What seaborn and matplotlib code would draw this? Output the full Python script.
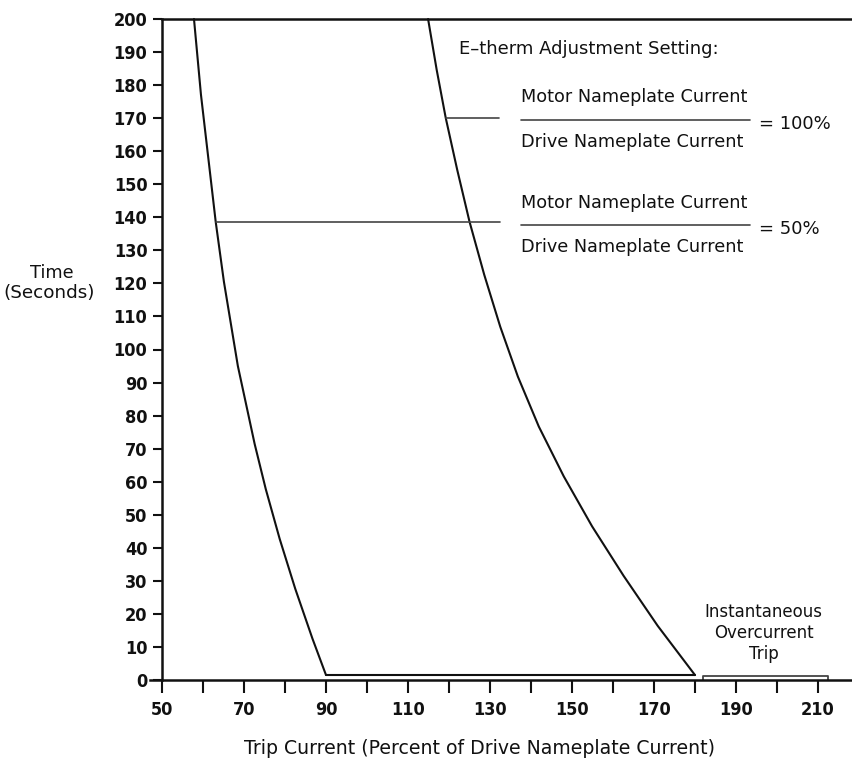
import matplotlib
matplotlib.use("Agg")
import matplotlib.pyplot as plt
import seaborn as sns
import pandas as pd
from matplotlib.ticker import FixedLocator

# Trip-time curves (trip current in % of drive nameplate, time in seconds)
current_100 = [114.9, 117.0, 119.2, 122.0, 125.0, 128.6, 132.5, 136.8, 141.9,
               148.0, 154.9, 162.6, 170.9, 180.0]
time_100 = [200.0, 184.6, 170.1, 154.4, 138.7, 122.6, 106.9, 91.8, 76.7,
            61.6, 46.5, 31.5, 16.4, 1.5]

current_50 = [57.8, 59.5, 63.1, 65.1, 68.5, 72.6, 75.3, 78.7, 82.5, 86.7, 90.0]
time_50 = [200.0, 177.1, 138.6, 120.5, 95.0, 71.4, 57.8, 42.7, 27.6, 12.5, 1.5]

# Minimum trip time plateau between the two curve ends
floor_current = [90.0, 180.0]
floor_time = [1.5, 1.5]

# Instantaneous overcurrent trip band
inst_current = [182.0, 182.0, 212.5, 212.5]
inst_time = [0.0, 1.2, 1.2, 0.0]

# Axis ticks
x_major = [50, 70, 90, 110, 130, 150, 170, 190, 210]
x_minor = [60, 80, 100, 120, 140, 160, 180, 200]
y_ticks = list(range(0, 201, 10))

# Setting labels and the levels where their leaders meet the curves
setting_labels = ["= 100%", "= 50%"]
leader_time = [170.1, 138.6]
leader_start = [119.2, 63.1]
leader_end = [132.2, 132.4]

sns.set_style("white")
plt.rcParams["font.family"] = ["DejaVu Sans"]

W, H = 852, 763
fig = plt.figure(figsize=(W / 100, H / 100), dpi=100)
ax = fig.add_axes([150 / W, 1 - 680 / H, 702 / W, 661 / H])

ink = "#111111"
gray = "#444444"

df100 = pd.DataFrame({"current": current_100, "time": time_100})
df50 = pd.DataFrame({"current": current_50, "time": time_50})
dffloor = pd.DataFrame({"current": floor_current, "time": floor_time})
dfinst = pd.DataFrame({"current": inst_current, "time": inst_time})

for d, lw, col in [(df100, 1.5, ink), (df50, 1.5, ink), (dffloor, 1.5, ink), (dfinst, 1.3, gray)]:
    sns.lineplot(data=d, x="current", y="time", ax=ax, color=col, lw=lw,
                 sort=False, estimator=None, clip_on=False)

# Leaders from each curve toward its label
for t, x0, x1 in zip(leader_time, leader_start, leader_end):
    ax.plot([x0, x1], [t, t], color=gray, lw=1.2, clip_on=False)

ax.set_xlim(47.07, 218.3)
ax.set_ylim(0, 200)

ax.spines["right"].set_visible(False)
for s in ["top", "bottom", "left"]:
    ax.spines[s].set_linewidth(1.8)
    ax.spines[s].set_color(ink)
ax.spines["left"].set_position(("data", 50))
ax.spines["left"].set_bounds(0, 200)
ax.spines["top"].set_bounds(50, 218.3)

ax.xaxis.set_major_locator(FixedLocator(x_major))
ax.xaxis.set_minor_locator(FixedLocator(x_minor))
ax.set_xticklabels([str(v) for v in x_major])
ax.set_yticks(y_ticks)
ax.set_yticklabels([str(v) for v in y_ticks])

for lab in ax.get_xticklabels() + ax.get_yticklabels():
    lab.set_fontfamily(["DejaVu Sans"])
    lab.set_fontstretch("condensed")
    lab.set_fontweight("bold")
    lab.set_fontsize(13)
    lab.set_color(ink)

ax.tick_params(axis="x", which="both", direction="out", length=9, width=1.5,
               color=ink, pad=6, bottom=True, top=False)
ax.tick_params(axis="y", which="both", direction="out", length=6.5, width=1.5,
               color=ink, pad=4, left=True, right=False)
ax.set_xlabel("")
ax.set_ylabel("")

fig.text(480 / W, 1 - 748 / H, "Trip Current (Percent of Drive Nameplate Current)",
         ha="center", va="center", color=ink, fontsize=13.6)
fig.text(52 / W, 1 - 273 / H, "Time", ha="center", va="center", color=ink, fontsize=12.8)
fig.text(49 / W, 1 - 293 / H, "(Seconds)", ha="center", va="center", color=ink, fontsize=13.2)

ax.text(122.4, 190.9, "E\u2013therm Adjustment Setting:", ha="left", va="center",
        color=ink, fontsize=13)

# Fractions: motor / drive nameplate current
frac_mid = [170.1, 138.2]
for mid, lab in zip(frac_mid, setting_labels):
    ax.text(137.6, mid + 6.2, "Motor Nameplate Current", ha="left", va="center",
            color=ink, fontsize=12.7)
    ax.text(137.6, mid - 7.2, "Drive Nameplate Current", ha="left", va="center",
            color=ink, fontsize=12.7)
    ax.plot([137.6, 193.4], [mid - 0.6, mid - 0.6], color=gray, lw=1.2)
    ax.text(195.6, mid - 1.8, lab, ha="left", va="center", color=ink, fontsize=13)

ax.text(196.8, 14.3, "Instantaneous\nOvercurrent\nTrip", ha="center", va="center",
        linespacing=1.2, color=ink, fontsize=12)

fig.savefig("out.png", dpi=100, facecolor="white")
